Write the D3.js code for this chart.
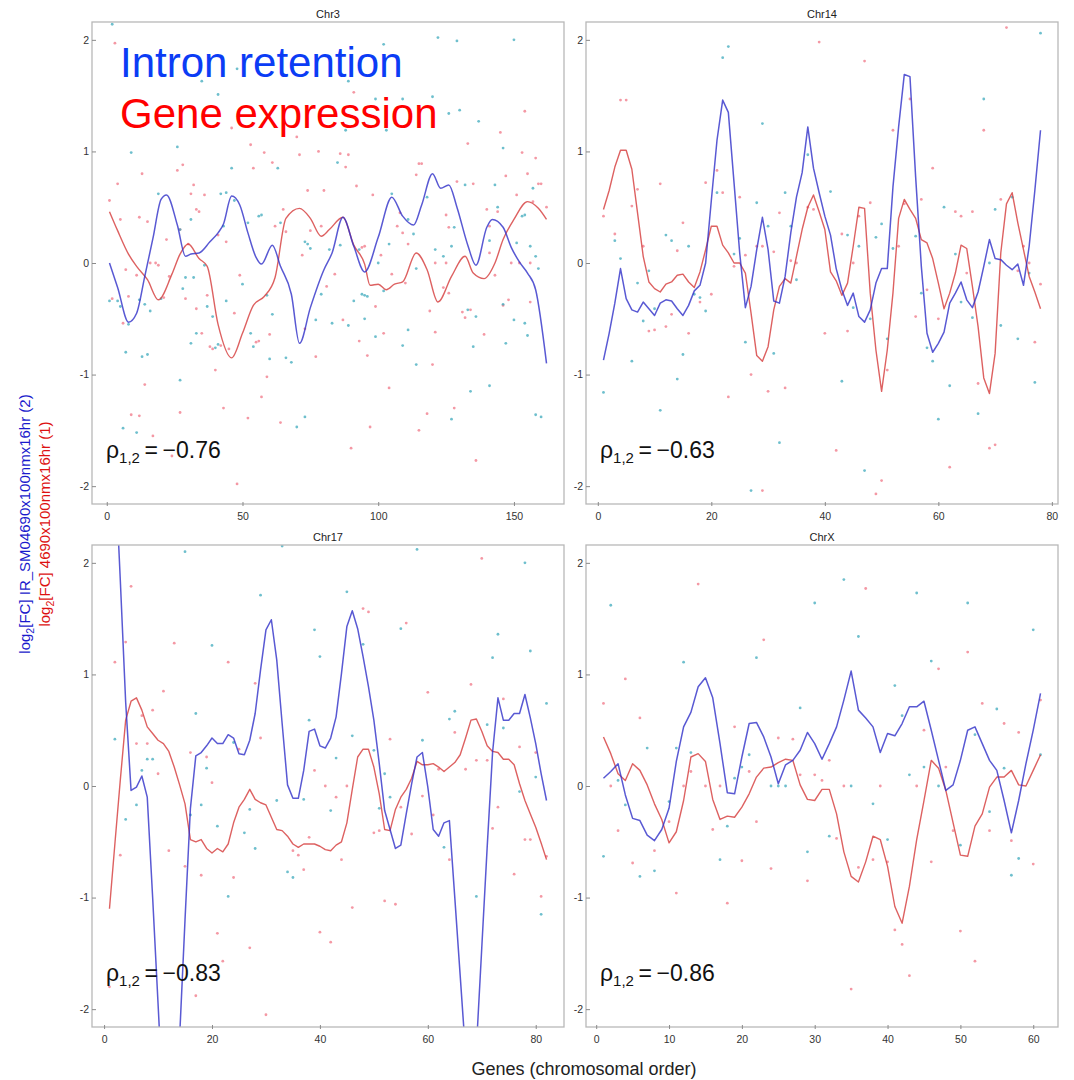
<!DOCTYPE html>
<html><head><meta charset="utf-8">
<script src="https://cdn.jsdelivr.net/npm/d3@7"></script>
<style>html,body{margin:0;padding:0;background:#fff;} svg{display:block;font-family:"Liberation Sans",Arial,Helvetica,sans-serif;}</style>
</head><body><div id="chart"></div>
<script>
// ---------------- DATA ----------------
const panelNames = ["Chr3", "Chr14", "Chr17", "ChrX"];
const geneCounts = [162, 78, 82, 61];
const rhoValues = ["\u22120.76", "\u22120.63", "\u22120.83", "\u22120.86"];
const yTicks = [-2, -1, 0, 1, 2];
const xTicksChr3 = [0, 50, 100, 150];
const xTicksChr14 = [0, 20, 40, 60, 80];
const xTicksChr17 = [0, 20, 40, 60, 80];
const xTicksChrX = [0, 10, 20, 30, 40, 50, 60];

// Chr3 smoothed curves: [gene, log2FC]
const chr3IR = [[1,0],[4,-0.22],[8,-0.53],[11,-0.45],[14,-0.12],[17,0.22],[20,0.57],[22,0.61],[26,0.34],[29,0.06],[31,0.08],[34,0.09],[38,0.19],[41,0.27],[43,0.35],[46,0.60],[49,0.52],[52,0.27],[55,0.05],[57,-0.01],[61,0.16],[64,-0.03],[68,-0.28],[71,-0.72],[75,-0.40],[80,-0.06],[83,0.09],[87,0.41],[91,0.15],[95,-0.08],[100,0.23],[105,0.59],[109,0.42],[113,0.34],[116,0.52],[120,0.80],[123,0.67],[126,0.70],[129,0.50],[133,0.16],[136,-0.02],[140,0.32],[142,0.39],[146,0.32],[149,0.14],[152,0.01],[155,-0.09],[158,-0.24],[162,-0.90]];
const chr3GE = [[1,0.46],[4,0.29],[8,0.08],[11,-0.03],[15,-0.15],[19,-0.33],[24,-0.10],[27,0.08],[30,0.17],[34,0.04],[37,-0.03],[41,-0.55],[46,-0.85],[50,-0.63],[54,-0.38],[58,-0.30],[62,-0.13],[66,0.40],[71,0.49],[75,0.40],[79,0.24],[82,0.30],[87,0.41],[91,0.16],[95,-0.01],[97,-0.20],[100,-0.19],[103,-0.24],[106,-0.19],[109,-0.17],[114,0.09],[118,-0.06],[122,-0.35],[127,-0.12],[132,0.06],[135,-0.09],[139,-0.14],[143,0.0],[146,0.21],[150,0.39],[155,0.55],[159,0.49],[162,0.39]];

// Per-gene curves (gene 1..n)
const chr14IR = [-0.87,-0.63,-0.36,-0.05,-0.32,-0.42,-0.44,-0.35,-0.41,-0.47,-0.36,-0.33,-0.34,-0.41,-0.47,-0.38,-0.25,-0.20,0.0,0.56,1.10,1.46,1.35,0.72,0.09,-0.40,-0.21,0.12,0.41,0.12,-0.34,-0.36,-0.12,0.27,0.59,0.81,1.22,0.85,0.63,0.42,0.25,-0.05,-0.24,-0.38,-0.27,-0.48,-0.53,-0.42,-0.18,-0.05,-0.05,0.68,1.22,1.69,1.67,0.77,-0.03,-0.63,-0.80,-0.72,-0.62,-0.36,-0.27,-0.17,-0.33,-0.40,-0.26,-0.03,0.21,0.04,0.03,-0.02,-0.06,-0.01,-0.20,0.15,0.65,1.19];
const chr14GE = [0.48,0.65,0.86,1.01,1.01,0.84,0.45,0.06,-0.17,-0.23,-0.26,-0.19,-0.17,-0.11,-0.10,-0.17,-0.22,-0.08,0.12,0.33,0.33,0.16,0.09,0.0,0.0,-0.09,-0.45,-0.83,-0.88,-0.75,-0.42,-0.21,-0.14,-0.18,0.06,0.30,0.50,0.61,0.46,0.30,-0.08,-0.16,-0.29,-0.18,0.15,0.50,0.49,-0.27,-0.78,-1.15,-0.78,-0.27,0.40,0.57,0.48,0.40,0.21,0.18,0.04,-0.18,-0.41,-0.27,-0.09,0.16,0.13,-0.21,-0.57,-1.03,-1.17,-0.81,0.09,0.53,0.63,0.36,0.12,-0.12,-0.26,-0.41];
const chr17IR = [3.6,2.9,1.85,0.75,-0.04,-0.01,0.09,-0.10,-1.0,-1.95,-2.9,-3.3,-3.2,-2.25,-1.2,-0.2,0.27,0.30,0.36,0.43,0.38,0.38,0.46,0.43,0.29,0.28,0.41,0.65,1.04,1.40,1.49,1.13,0.56,0.01,-0.11,-0.11,0.14,0.49,0.51,0.36,0.34,0.43,0.62,1.01,1.43,1.57,1.41,1.16,0.89,0.59,0.20,-0.22,-0.39,-0.56,-0.53,-0.25,0.02,0.26,0.30,-0.01,-0.39,-0.45,-0.33,-0.31,-1.0,-1.7,-2.4,-3.1,-2.35,-1.45,-0.55,0.3,0.79,0.59,0.59,0.65,0.65,0.82,0.61,0.38,0.11,-0.13];
const chr17GE = [-1.10,-0.52,0.05,0.59,0.76,0.79,0.68,0.53,0.47,0.41,0.38,0.31,0.17,0.01,-0.16,-0.48,-0.50,-0.48,-0.56,-0.60,-0.56,-0.59,-0.52,-0.33,-0.19,-0.12,-0.03,-0.12,-0.15,-0.17,-0.28,-0.39,-0.40,-0.45,-0.52,-0.55,-0.52,-0.52,-0.52,-0.54,-0.57,-0.58,-0.53,-0.50,-0.33,-0.03,0.26,0.33,0.33,0.17,-0.07,-0.39,-0.40,-0.21,-0.10,-0.03,0.07,0.22,0.19,0.19,0.20,0.17,0.13,0.17,0.21,0.28,0.43,0.59,0.60,0.49,0.36,0.31,0.30,0.24,0.24,0.19,0.02,-0.13,-0.25,-0.37,-0.51,-0.66];
const chrXIR = [0.07,0.13,0.20,-0.08,-0.29,-0.31,-0.44,-0.49,-0.39,-0.20,0.22,0.53,0.66,0.89,0.97,0.79,0.38,-0.06,-0.07,0.26,0.56,0.57,0.44,0.26,0.02,0.19,0.23,0.32,0.48,0.38,0.24,0.38,0.53,0.77,1.03,0.68,0.61,0.53,0.30,0.47,0.45,0.56,0.71,0.71,0.76,0.50,0.23,-0.04,0.01,0.23,0.50,0.53,0.38,0.23,0.14,-0.13,-0.42,-0.13,0.20,0.50,0.83];
const chrXGE = [0.44,0.29,0.11,0.05,0.20,0.14,0.01,-0.16,-0.30,-0.51,-0.41,-0.13,0.26,0.29,0.22,-0.12,-0.30,-0.27,-0.28,-0.19,-0.07,0.08,0.16,0.17,0.21,0.24,0.23,0.01,-0.12,-0.13,-0.03,-0.03,-0.25,-0.59,-0.81,-0.86,-0.68,-0.45,-0.48,-0.72,-1.08,-1.23,-0.90,-0.48,-0.13,0.23,0.16,-0.04,-0.33,-0.62,-0.63,-0.36,-0.25,-0.01,0.08,0.08,0.14,0.01,0.0,0.14,0.28];

// Raw points: [gene, log2FC]
const chr3GEpts = [[3,1.97],[91,1.53],[154,1.36],[46,1.21],[70,1.13],[145,1.17],[53,1.06],[58,0.99],[89,0.97],[71,0.97],[133,1.07],[153,0.99],[158,0.94],[13,0.80],[26,0.83],[28,0.88],[4,0.71],[54,0.85],[61,0.90],[78,1.00],[86,0.98],[116,0.89],[155,0.80],[160,0.71],[147,0.78],[135,0.71],[129,0.73],[114,0.79],[32,0.70],[31,0.62],[36,0.61],[34,0.46],[74,0.65],[80,0.65],[98,0.61],[92,0.69],[157,0.55],[162,0.50],[151,0.61],[144,0.46],[140,0.48],[1,0.56],[5,0.39],[12,0.41],[15,0.37],[22,0.21],[30,0.17],[65,0.48],[79,0.33],[75,0.29],[107,0.33],[108,0.45],[125,0.43],[141,0.33],[2,-0.32],[6,-0.54],[7,-0.06],[8,-0.30],[9,-1.36],[11,-0.11],[12,-1.37],[14,-1.09],[16,0.0],[17,-1.55],[19,-0.02],[21,-0.31],[23,-0.12],[24,-1.73],[27,-1.34],[29,-0.32],[33,-0.41],[35,-0.63],[37,-0.29],[38,-0.75],[39,-0.77],[40,-0.96],[42,-0.74],[43,-1.30],[45,-0.77],[47,-0.45],[48,-1.98],[52,-1.39],[55,-0.71],[56,-0.70],[57,-1.20],[59,-1.02],[60,-0.64],[64,-1.43],[72,0.07],[73,-0.59],[77,-0.84],[81,-0.21],[84,-0.10],[87,-0.51],[90,-1.66],[93,-0.70],[94,0.14],[96,-0.83],[97,-1.47],[99,-0.39],[102,-0.63],[104,-1.12],[105,-0.10],[110,-0.18],[115,-1.50],[118,-1.35],[119,-0.43],[120,-0.91],[121,-0.62],[124,-0.22],[126,-0.27],[128,-1.30],[131,-0.44],[132,-0.49],[134,-0.42],[136,-1.77],[139,-0.64],[143,-0.11],[146,-0.38],[148,-0.33],[152,0.0],[156,-0.35],[18,0.0],[27,0.30],[33,0.48],[41,0.25],[44,0.19],[49,-0.11],[62,0.33],[66,0.28],[88,0.86],[95,0.15],[101,0.07],[109,0.27],[111,0.17],[115,0.89],[121,0.0],[125,0.0],[126,0.32],[141,0.09],[149,0.0],[156,0.0],[159,0.71]];
const chr3IRpts = [[2,2.14],[102,1.96],[122,2.02],[129,1.99],[150,2.0],[48,1.74],[35,1.63],[89,1.63],[137,1.27],[126,1.34],[99,1.47],[109,1.47],[120,1.49],[130,1.37],[103,1.19],[88,1.19],[26,1.04],[9,0.99],[41,1.51],[46,0.85],[63,0.85],[85,0.90],[146,1.03],[19,0.62],[42,0.62],[44,0.63],[105,0.62],[132,0.70],[143,0.70],[157,0.67],[118,0.59],[154,0.43],[144,0.50],[73,0.19],[74,0.17],[86,0.16],[111,0.39],[113,0.26],[121,0.12],[127,0.15],[141,0.20],[156,0.15],[57,0.43],[56,0.42],[27,0.30],[31,0.39],[36,-0.02],[32,-0.13],[43,0.33],[47,0.56],[52,0.36],[64,0.36],[75,0.13],[82,0.12],[93,0.12],[95,-0.29],[100,0.0],[104,0.17],[114,-0.05],[124,0.06],[128,0.32],[151,0.18],[153,0.42],[158,0.06],[1,-0.34],[4,-0.34],[5,-0.39],[6,-1.48],[7,-0.80],[8,-0.55],[11,-1.52],[12,-0.33],[13,-0.84],[14,-0.37],[15,-0.82],[16,-0.43],[20,-0.32],[27,-1.05],[28,-0.23],[29,-0.13],[31,-0.72],[33,-0.63],[37,-0.39],[39,-0.48],[40,-0.76],[41,-0.73],[44,-0.34],[50,-0.19],[53,-0.63],[54,-0.75],[59,-0.29],[60,-0.86],[61,-0.46],[66,-0.85],[68,-0.89],[70,-1.47],[73,-1.38],[77,-0.51],[79,-0.28],[83,-0.54],[89,-0.56],[91,-0.34],[94,-0.28],[95,-0.50],[96,-0.30],[99,-0.66],[102,-0.25],[109,-0.74],[111,-0.60],[114,-0.91],[127,-1.40],[133,-0.42],[134,-1.15],[135,-0.75],[136,-0.48],[141,-1.10],[146,-0.37],[147,-0.72],[150,-0.51],[154,-0.54],[155,-0.65],[158,-1.36],[160,-1.38],[159,-0.05]];
const chr14GEpts = [[1,0.42],[3,0.26],[4,1.46],[5,1.46],[6,0.51],[7,0.66],[8,0.15],[11,0.71],[14,0.11],[15,0.36],[19,0.72],[21,0.83],[22,0.63],[24,-0.03],[25,0.59],[26,0.07],[28,0.15],[29,0.15],[31,0.10],[32,0.45],[34,0.02],[35,0.0],[37,0.50],[38,0.48],[39,1.98],[43,0.26],[45,0.0],[46,0.42],[47,1.81],[48,0.54],[52,1.19],[53,0.15],[54,0.53],[55,1.47],[57,0.57],[59,0.85],[63,0.46],[64,0.42],[66,0.46],[68,1.19],[71,0.57],[72,2.11],[75,0.15],[76,0.0],[9,-0.61],[10,-0.60],[12,-0.57],[13,-0.46],[18,-0.35],[16,-0.63],[20,-0.28],[23,-1.20],[27,-1.00],[29,-2.04],[30,-1.15],[33,-1.12],[40,-0.63],[42,-1.68],[44,-0.61],[49,-2.07],[50,-1.95],[51,-0.96],[56,-0.48],[58,-0.24],[60,-0.50],[62,-1.83],[65,-0.09],[67,-1.08],[69,-1.66],[70,-1.63],[74,-0.07],[77,-0.71],[78,-0.19]];
const chr14IRpts = [[3,0.20],[4,0.04],[12,0.25],[13,0.20],[16,0.15],[21,0.63],[22,1.84],[23,1.94],[24,0.08],[25,0.22],[28,0.54],[29,1.25],[30,0.33],[33,0.63],[34,0.33],[37,0.97],[41,0.64],[44,0.25],[46,0.15],[49,0.23],[50,0.35],[52,0.13],[56,0.24],[61,0.50],[63,0.08],[68,1.47],[69,0.0],[70,0.48],[73,0.59],[78,2.06],[1,-1.16],[6,-0.88],[7,-0.18],[8,-0.52],[9,-0.07],[10,-0.41],[11,-1.32],[14,-1.04],[15,-0.82],[17,-0.28],[18,-0.31],[19,-0.43],[26,-0.71],[27,-2.04],[31,-0.81],[32,-1.61],[35,-0.15],[43,-1.06],[45,-0.40],[47,-1.86],[48,-0.50],[51,-0.68],[57,-0.27],[58,-0.76],[59,-0.88],[60,-1.40],[62,-1.10],[64,-0.35],[66,-0.49],[67,-1.35],[71,-0.56],[74,-0.68],[76,-0.09],[77,-1.07]];
const chr17GEpts = [[2,1.11],[4,1.29],[5,1.79],[6,0.38],[7,0.63],[8,0.38],[9,0.68],[10,0.11],[11,0.85],[13,1.28],[16,0.30],[19,0.26],[20,0.03],[23,1.11],[25,0.33],[28,0.92],[29,0.43],[39,0.14],[41,0.0],[45,0.0],[48,1.59],[49,1.56],[53,0.42],[56,1.46],[60,0.84],[62,0.15],[65,0.48],[67,0.15],[68,0.91],[69,0.23],[70,2.04],[71,0.23],[74,0.78],[77,0.35],[80,0.30],[3,-0.62],[1,-1.80],[12,-0.58],[15,-0.72],[17,-1.88],[18,-0.80],[21,-1.32],[22,-1.57],[24,-0.82],[27,-1.45],[30,-2.05],[35,-0.58],[36,-0.62],[37,-0.75],[38,-0.46],[40,-1.31],[42,-1.40],[43,-0.10],[44,-0.66],[46,-1.09],[50,-0.42],[51,-0.40],[52,-1.03],[54,-1.06],[55,-0.19],[57,-0.43],[59,-0.09],[61,-0.26],[64,-0.66],[72,-0.38],[73,-0.19],[76,-0.79],[78,-0.48],[79,-0.48],[81,-0.99],[82,-0.63]];
const chr17IRpts = [[2,0.42],[7,0.14],[8,0.24],[9,0.24],[15,2.10],[17,0.65],[19,0.16],[20,1.26],[24,0.39],[29,1.71],[33,2.15],[38,0.59],[39,1.40],[40,1.16],[43,0.25],[45,1.74],[46,0.45],[48,1.27],[50,0.32],[52,0.11],[55,1.41],[58,2.12],[59,0.41],[64,0.60],[65,0.67],[71,0.55],[72,1.15],[73,1.36],[74,0.52],[78,2.00],[79,1.21],[80,0.08],[82,0.74],[4,-0.30],[6,-0.17],[16,-0.26],[18,-0.17],[21,-0.36],[23,-0.99],[26,-0.42],[27,-0.21],[28,-0.56],[32,-0.13],[34,-0.77],[35,-0.82],[37,-0.12],[42,-0.22],[51,-0.20],[53,-0.10],[63,-0.55],[69,-0.99],[77,-0.05],[81,-1.15]];
const chrXGEpts = [[1,0.74],[2,0.0],[4,0.96],[6,0.61],[12,0.0],[13,0.13],[14,1.81],[15,0.0],[17,0.0],[19,0.53],[21,0.13],[23,1.31],[25,0.43],[27,0.42],[28,0.10],[30,0.10],[31,0.05],[32,0.23],[34,0.0],[37,1.77],[39,0.0],[44,0.0],[45,0.50],[47,1.05],[48,0.17],[51,1.20],[53,0.74],[56,0.56],[58,0.48],[61,0.77],[3,-0.40],[5,-0.69],[8,-0.58],[10,-0.32],[11,-0.96],[16,-0.39],[18,-1.05],[20,-0.67],[22,-0.32],[24,-0.74],[29,-0.85],[33,-0.47],[35,-1.82],[36,-0.73],[38,-0.66],[40,-0.68],[41,-1.29],[42,-1.42],[43,-1.70],[46,-0.68],[49,-0.40],[50,-1.30],[52,-1.57],[54,-0.40],[57,-0.49],[60,-0.70]];
const chrXIRpts = [[2,1.62],[3,0.05],[7,0.34],[11,0.34],[12,1.11],[13,0.30],[19,0.07],[20,0.17],[21,0.28],[22,1.15],[24,0.0],[25,0.0],[26,0.0],[28,0.70],[30,1.64],[34,1.85],[35,0.0],[36,1.34],[41,0.90],[42,0.63],[43,0.10],[44,1.73],[45,0.17],[46,1.12],[47,0.0],[51,1.64],[52,0.46],[55,0.69],[56,0.16],[60,1.40],[61,0.28],[1,-0.63],[4,-0.17],[6,-0.81],[8,-0.76],[10,-0.14],[17,-0.66],[18,-0.36],[29,-0.59],[32,-0.45],[38,-0.16],[40,-0.48],[50,-0.53],[54,-0.23],[57,-0.80],[58,-0.65]];

// ---------------- LAYOUT ----------------
const W = 1074, H = 1080;
const perGene = arr => arr.map((v, i) => [i + 1, v]);
const panels = [
  {name: panelNames[0], n: geneCounts[0], rho: rhoValues[0], ticks: xTicksChr3, ir: chr3IR, ge: chr3GE, irPts: chr3IRpts, gePts: chr3GEpts, smooth: true, x0: 92, x1: 564, y0: 22, y1: 504},
  {name: panelNames[1], n: geneCounts[1], rho: rhoValues[1], ticks: xTicksChr14, ir: perGene(chr14IR), ge: perGene(chr14GE), irPts: chr14IRpts, gePts: chr14GEpts, smooth: false, x0: 586, x1: 1058, y0: 22, y1: 504},
  {name: panelNames[2], n: geneCounts[2], rho: rhoValues[2], ticks: xTicksChr17, ir: perGene(chr17IR), ge: perGene(chr17GE), irPts: chr17IRpts, gePts: chr17GEpts, smooth: false, x0: 92, x1: 564, y0: 545, y1: 1027},
  {name: panelNames[3], n: geneCounts[3], rho: rhoValues[3], ticks: xTicksChrX, ir: perGene(chrXIR), ge: perGene(chrXGE), irPts: chrXIRpts, gePts: chrXGEpts, smooth: false, x0: 586, x1: 1058, y0: 545, y1: 1027}
];

const COL_IR_LINE = "#2f2fc8", COL_GE_LINE = "#d43a3a";
const COL_IR_PT = "#3ea9bc", COL_GE_PT = "#f07585";

const svg = d3.select("#chart").append("svg").attr("width", W).attr("height", H);
const defs = svg.append("defs");

panels.forEach((p, k) => {
  const pad = (p.n - 1) * 0.04;
  const x = d3.scaleLinear().domain([1 - pad, p.n + pad]).range([p.x0, p.x1]);
  const y = d3.scaleLinear().domain([-2.16, 2.16]).range([p.y1, p.y0]);
  const g = svg.append("g");
  const clipId = "clip" + k;
  defs.append("clipPath").attr("id", clipId).append("rect")
    .attr("x", p.x0).attr("y", p.y0).attr("width", p.x1 - p.x0).attr("height", p.y1 - p.y0);

  const plot = g.append("g").attr("clip-path", `url(#${clipId})`);
  plot.append("g").selectAll("circle").data(p.gePts).join("circle")
    .attr("cx", d => x(d[0])).attr("cy", d => y(d[1])).attr("r", 1.4)
    .attr("fill", COL_GE_PT).attr("opacity", 0.75);
  plot.append("g").selectAll("circle").data(p.irPts).join("circle")
    .attr("cx", d => x(d[0])).attr("cy", d => y(d[1])).attr("r", 1.4)
    .attr("fill", COL_IR_PT).attr("opacity", 0.75);
  const line = d3.line().x(d => x(d[0])).y(d => y(d[1]))
    .curve(p.smooth ? d3.curveMonotoneX : d3.curveLinear);
  plot.append("path").datum(p.ge).attr("d", line).attr("fill", "none")
    .attr("stroke", COL_GE_LINE).attr("stroke-width", 1.4).attr("stroke-opacity", 0.8).attr("stroke-linejoin", "round");
  plot.append("path").datum(p.ir).attr("d", line).attr("fill", "none")
    .attr("stroke", COL_IR_LINE).attr("stroke-width", 1.5).attr("stroke-opacity", 0.8).attr("stroke-linejoin", "round");

  g.append("rect").attr("x", p.x0).attr("y", p.y0).attr("width", p.x1 - p.x0).attr("height", p.y1 - p.y0)
    .attr("fill", "none").attr("stroke", "#b8b8b8").attr("stroke-width", 1.3);

  const ya = g.append("g").attr("transform", `translate(${p.x0},0)`)
    .call(d3.axisLeft(y).tickValues(yTicks).tickFormat(d => String(d)).tickSizeInner(-4).tickSizeOuter(0).tickPadding(3));
  const xa = g.append("g").attr("transform", `translate(0,${p.y1})`)
    .call(d3.axisBottom(x).tickValues(p.ticks).tickFormat(d => String(d)).tickSizeInner(4).tickSizeOuter(0).tickPadding(5));
  [ya, xa].forEach(a => {
    a.select(".domain").remove();
    a.selectAll("line").attr("stroke", "#8a8a8a");
    a.selectAll("text").attr("fill", "#333").attr("font-size", 10.5)
      .attr("font-family", '"Liberation Sans", Arial, sans-serif');
  });
  xa.selectAll(".tick line").attr("y1", -2).attr("y2", 2);

  g.append("text").attr("x", (p.x0 + p.x1) / 2).attr("y", p.y0 - 4)
    .attr("text-anchor", "middle").attr("font-size", 11).attr("fill", "#222").text(p.name);

  const rt = g.append("text").attr("x", p.x0 + 14).attr("y", y(-1.75)).attr("fill", "#111").attr("font-size", 23);
  rt.append("tspan").text("\u03c1");
  rt.append("tspan").attr("font-size", 15).attr("dy", 5).text("1,2");
  rt.append("tspan").attr("dy", -5).text("\u2009=\u2009" + p.rho);
});

// legend text
svg.append("text").attr("x", 120).attr("y", 77).attr("font-size", 42).attr("fill", "#0b3cf5").text("Intron retention");
svg.append("text").attr("x", 120).attr("y", 128).attr("font-size", 42).attr("fill", "#ff0000").text("Gene expression");

// y-axis titles (centred on the figure height)
const yt1 = svg.append("text").attr("transform", "translate(30,524) rotate(-90)").attr("text-anchor", "middle").attr("font-size", 15).attr("fill", "#1a1acc");
yt1.append("tspan").text("log");
yt1.append("tspan").attr("font-size", 10.5).attr("dy", 3.5).text("2");
yt1.append("tspan").attr("dy", -3.5).text("[FC] IR_SM04690x100nmx16hr (2)");
const yt2 = svg.append("text").attr("transform", "translate(50,524) rotate(-90)").attr("text-anchor", "middle").attr("font-size", 15).attr("fill", "#dd1111");
yt2.append("tspan").text("log");
yt2.append("tspan").attr("font-size", 10.5).attr("dy", 3.5).text("2");
yt2.append("tspan").attr("dy", -3.5).text("[FC] 4690x100nmx16hr (1)");

// x-axis title
svg.append("text").attr("x", 584).attr("y", 1075).attr("text-anchor", "middle").attr("font-size", 18).attr("fill", "#222")
  .text("Genes (chromosomal order)");
</script></body></html>
